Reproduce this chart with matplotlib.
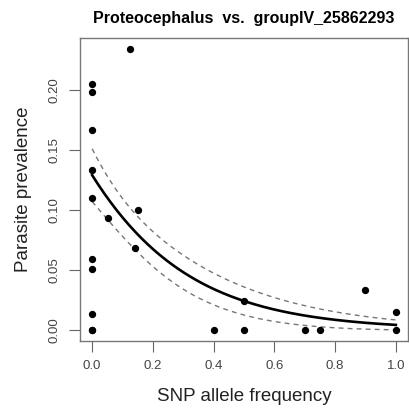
import numpy as np
import matplotlib
matplotlib.use('Agg')
import matplotlib.pyplot as plt

plt.rcParams['font.family'] = ['Liberation Sans', 'DejaVu Sans']

# observed points (SNP allele frequency, parasite prevalence)
snp_freq = [0, 0, 0, 0.125, 0, 0, 0, 0.053, 0.15, 0.14, 0, 0, 0, 0,
            0.4, 0.5, 0.5, 0.7, 0.75, 0.9, 1.0, 1.0]
prevalence = [0.205, 0.198, 0.167, 0.234, 0.133, 0.110, 0.059, 0.093, 0.100, 0.068,
              0.051, 0.013, 0.0, 0.0, 0.0, 0.0, 0.024, 0.0, 0.0, 0.033, 0.015, 0.0]

# logistic fit (logit scale) and its covariance terms
b0 = -1.91
b1 = -3.59
var0 = 0.01
cov01 = -0.02
var1 = 0.30

x_ticks = [0.0, 0.2, 0.4, 0.6, 0.8, 1.0]
y_ticks = [0.00, 0.05, 0.10, 0.15, 0.20]

fig = plt.figure(figsize=(4.09, 4.15), dpi=100)
ax = fig.add_axes([80/409, 1-341/415, 328/409, 303/415])

xs = np.linspace(0, 1, 200)
eta = b0 + b1*xs
p = 1/(1+np.exp(-eta))
se = np.sqrt(var0 + 2*cov01*xs + var1*xs**2) * p*(1-p)
ax.plot(xs, p, color='black', lw=1.9)
ax.plot(xs, p + 1.96*se, color='#777777', lw=1.0, ls=(0, (3.5, 3)))
ax.plot(xs, p - 1.96*se, color='#777777', lw=1.0, ls=(0, (3.5, 3)))

ax.scatter(snp_freq, prevalence, s=18, color='black', zorder=3)

ax.set_xlim(-0.04, 1.04)
ax.set_ylim(-0.00936, 0.2434)
ax.set_xticks(x_ticks)
ax.set_xticklabels(['%.1f' % v for v in x_ticks])
ax.set_yticks(y_ticks)
ax.set_yticklabels(['%.2f' % v for v in y_ticks], rotation=90, va='center')
ax.tick_params(axis='both', direction='out', length=8, width=0.8, color='#666666',
               labelsize=9.5, labelcolor='#444444', pad=6)
for s in ax.spines.values():
    s.set_color('#777777')
    s.set_linewidth(1.0)

ax.set_xlabel('SNP allele frequency', fontsize=13.5, labelpad=11, color='#222222')
ax.set_ylabel('Parasite prevalence', fontsize=13.5, labelpad=12, color='#222222')
ax.set_title('Proteocephalus  vs.  groupIV_25862293', fontsize=11.5, fontweight='bold', pad=11)

fig.savefig('out.png', dpi=100)
